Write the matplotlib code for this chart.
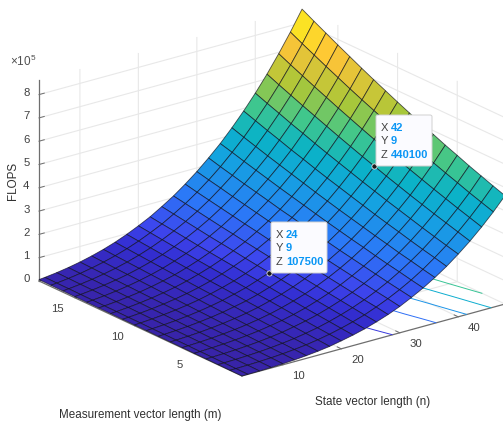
import numpy as np
import matplotlib
matplotlib.use("Agg")
import matplotlib.pyplot as plt
from matplotlib.colors import LinearSegmentedColormap
from matplotlib.patches import FancyBboxPatch
from mpl_toolkits.mplot3d import proj3d

plt.rcParams['font.family'] = ['Liberation Sans', 'DejaVu Sans']
plt.rcParams['mathtext.default'] = 'regular'

state_len = [3,4,6,8,10,12,14,16,18,20,22,24,26,28,30,32,34,36,38,40,42,44,46,48]
meas_len = list(range(1, 19))
# thousands of FLOPS, one row per state length, one column per measurement length
kflops = [
[.1,.4,.8,1.1,1.4,1.8,2.1,2.4,2.8,3.1,3.4,3.8,4.1,4.4,4.8,5.1,5.5,5.9],
[.3,.7,1.2,1.7,2.1,2.6,3.1,3.5,4.0,4.5,5.0,5.5,6.0,6.5,7.0,7.5,8.0,8.6],
[.9,1.7,2.4,3.2,4.0,4.8,5.6,6.4,7.2,8.0,8.9,9.7,10.6,11.5,12.3,13.2,14.1,15.0],
[2.2,3.3,4.4,5.5,6.7,7.8,9.0,10.2,11.4,12.7,13.9,15.2,16.5,17.8,19.1,20.5,21.8,23.2],
[4.2,5.7,7.2,8.8,10.4,12.0,13.6,15.3,16.9,18.7,20.4,22.2,23.9,25.8,27.6,29.5,31.4,33.3],
[7.3,9.2,11.2,13.2,15.3,17.4,19.5,21.7,23.9,26.1,28.4,30.8,33.1,35.5,37.9,40.4,42.9,45.5],
[11.5,14.0,16.5,19.0,21.6,24.3,26.9,29.7,32.5,35.4,38.3,41.2,44.2,47.3,50.4,53.5,56.7,60.0],
[17,20,23,26,30,33,36,40,43,47,50,54,57,61,65,69,73,77],
[24,28,32,36,39,43,47,51,56,60,64,69,73,78,82,87,92,97],
[34,38,42,47,51,56,61,65,70,75,81,86,91,97,102,108,114,120],
[45,50,55,60,65,71,76,82,88,93,100,106,112,118,125,132,138,145],
[58,64,70,76,82,88,94,101,107.5,114,121,129,136,143,151,159,167,175],
[74,80,87,94,101,108,115,123,130,138,146,154,163,171,180,189,198,207],
[92,100,107,115,123,131,139,148,156,165,174,184,193,203,213,223,233,244],
[113,122,130,139,148,157,166,176,185,195,206,216,227,238,249,261,272,284],
[138,147,156,166,176,186,196,207,218,229,241,252,265,277,289,302,315,329],
[165,175,186,196,207,219,230,242,254,267,280,293,306,320,334,348,363,377],
[196,207,219,230,243,255,268,281,294,308,322,337,352,367,382,398,414,431],
[230,243,255,268,282,295,309,324,339,354,369,385,402,418,436,453,471,489],
[269,282,296,310,325,340,355,371,387,404,421,438,456,475,493,513,532,552],
[311,326,341,356,372,388,405,422,440.1,458,477,496,516,536,556,577,598,620],
[358,374,390,407,424,442,460,479,498,518,538,559,580,602,624,647,670,694],
[409,426,443,462,480,499,519,540,560,582,604,626,649,673,697,722,747,773],
[465,483,502,521,542,562,584,605,628,651,675,699,724,750,776,803,830,858],
]
tip_n = [42, 24]
tip_m = [9, 9]
tip_z = [440100, 107500]
n_ticks = [10, 20, 30, 40]
m_ticks = [5, 10, 15]
z_ticks = [0, 1, 2, 3, 4, 5, 6, 7, 8]
contour_levels = [1, 2, 3, 4, 5, 6, 7, 8]

W, H = 503, 425
fig = plt.figure(figsize=(W/100, H/100), dpi=100)
ax = fig.add_axes([0, 0, 1, 1], projection='3d', proj_type='ortho', computed_zorder=False)
ax.view_init(elev=20.97, azim=232.6)
ZMAX = 8.62e5
ax.set_xlim(3, 48, view_margin=0)
ax.set_ylim(1, 18, view_margin=0)
ax.set_zlim(0, ZMAX, view_margin=0)
asp = (331, 334, 215)
ax.set_box_aspect(asp, zoom=1)

parula = LinearSegmentedColormap.from_list('parula', [
    (0.0, (0.22,0.14,0.66)), (0.09, (0.20,0.18,0.82)), (0.143, (0.24,0.27,0.93)),
    (0.25, (0.17,0.47,0.97)), (0.40, (0.08,0.64,0.88)), (0.50, (0.04,0.70,0.78)),
    (0.60, (0.25,0.78,0.55)), (0.71, (0.67,0.78,0.22)), (0.86, (0.997,0.766,0.22)),
    (1.0, (0.977,0.984,0.08))])

N, M = np.meshgrid(state_len, meas_len, indexing='ij')
Z = np.array(kflops) * 1000.0
VMAX = Z.max()

ax.contour(N, M, Z, levels=[v*1e5 for v in contour_levels], zdir='z', offset=0,
           cmap=parula, vmin=0, vmax=VMAX, linewidths=0.7, zorder=1)
ax.plot_surface(N, M, Z, rstride=1, cstride=1, cmap=parula, vmin=0, vmax=VMAX,
                edgecolor=(0.05, 0.05, 0.1, 0.7), linewidth=0.6, shade=False,
                antialiased=True, zorder=2)
ax.scatter(tip_n, tip_m, tip_z, s=14, c='#1a1a1a', edgecolors='white', linewidths=0.5,
           depthshade=False, zorder=5)
for coll in ax.collections:
    coll.set_clip_on(False)

# axes styling
for axis in (ax.xaxis, ax.yaxis, ax.zaxis):
    axis.set_pane_color((1, 1, 1, 0))
    axis.pane.set_edgecolor('none')
    axis.line.set_color('#6e6e6e')
    axis.line.set_linewidth(0.9)
    axis._axinfo['grid'].update(color='#e8e8e8', linewidth=0.8)
    axis._axinfo['tick'].update(inward_factor=0.0, outward_factor=0.25, linewidth={True: 0.7, False: 0.5})
ax.set_xticks(n_ticks)
ax.set_yticks(m_ticks)
ax.set_zticks([v*1e5 for v in z_ticks])
ax.set_xticklabels([])
ax.set_yticklabels([])
ax.set_zticklabels([])
ax.tick_params(color='#6e6e6e')

# fit the box to the reference pixel geometry
def px(x, y, z):
    X, Y, _ = proj3d.proj_transform(x, y, z, ax.get_proj())
    return ax.transData.transform((X, Y))

ax.apply_aspect()
d = px(48, 1, 0) - px(3, 18, 0)
scale = (505 - 39) / abs(d[0])
ax.set_box_aspect(asp, zoom=scale)
ax.apply_aspect()
c = (px(48, 1, 0) + px(3, 18, 0)) / 2
target = np.array([(505 + 39) / 2, H - (304 + 281) / 2])
shift = target - c
ax.set_position([shift[0]/W, shift[1]/H, 1, 1])
ax.apply_aspect()

# tick labels placed from the projected tick positions
tk = dict(fontsize=8.2, color='#404040', va='center')
for v in n_ticks:
    p = px(v, 1, 0)
    fig.text((p[0]+16)/W, (p[1]-11.5)/H, str(v), ha='center', **tk)
for v in m_ticks:
    p = px(3, v, 0)
    fig.text((p[0]-11)/W, (p[1]-11.7)/H, str(v), ha='right', **tk)
for v in z_ticks:
    p = px(3, 18, v*1e5)
    fig.text((p[0]-9.5)/W, (p[1]+1.5)/H, str(v), ha='right', **tk)

# labels
lab = dict(fontsize=8.4, color='#303030', ha='center', va='center')
fig.text(140/W, 1-415/H, 'Measurement vector length (m)', **lab)
fig.text(373/W, 1-402/H, 'State vector length (n)', **lab)
fig.text(13/W, 1-181/H, 'FLOPS', rotation=90, **lab)
fig.text(23/W, 1-61/H, r'$\times 10^5$', fontsize=8.5, color='#505050', ha='center', va='center')

def tip(x0, y0, x1, y1, rows, vals):
    fig.patches.append(FancyBboxPatch((x0/W, 1-y1/H), (x1-x0)/W, (y1-y0)/H,
        boxstyle='round,pad=0,rounding_size=0.004', transform=fig.transFigure,
        fc='#fbfbff', ec='#d0d0d0', lw=0.7, figure=fig, zorder=6))
    for i, (a, b) in enumerate(zip('XYZ', vals)):
        y = rows + i*13.3
        fig.text((x0+5)/W, 1-y/H, a, fontsize=8, color='#404040', ha='left', va='center', zorder=7)
        fig.text((x0+15)/W, 1-y/H, str(b), fontsize=8, color='#0a96f5', weight='bold', ha='left', va='center', zorder=7)

tip(376, 115, 432, 166, 128, [tip_n[0], tip_m[0], tip_z[0]])
tip(271, 222, 327, 273, 235, [tip_n[1], tip_m[1], tip_z[1]])

fig.savefig('out.png', dpi=100)
